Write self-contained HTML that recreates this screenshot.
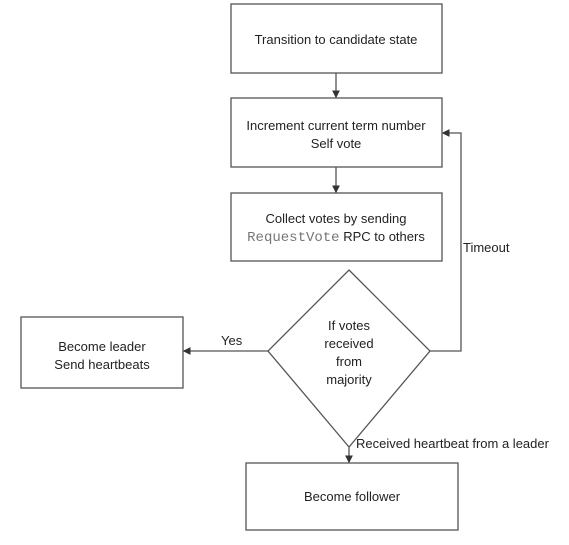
<!DOCTYPE html>
<html><head><meta charset="utf-8"><style>
html,body{margin:0;padding:0;background:#fff;}
svg text{font-family:"Liberation Sans",sans-serif;font-size:13px;fill:#222;}
</style></head><body>
<svg width="569" height="540" viewBox="0 0 569 540" xmlns="http://www.w3.org/2000/svg">
<defs><marker id="a" markerWidth="6" markerHeight="6" refX="5" refY="3" orient="auto"><path d="M0,0 L6,3 L0,6z" fill="#333"/></marker></defs>
<g fill="none" stroke="#555" stroke-width="1.3">
<rect x="231" y="4" width="211" height="69"/>
<rect x="231" y="98" width="211" height="69"/>
<rect x="231" y="193" width="211" height="68"/>
<polygon points="349,270 430,351 349,447 268,351"/>
<rect x="21" y="317" width="162" height="71"/>
<rect x="246" y="463" width="212" height="67"/>
<line x1="336" y1="73" x2="336" y2="97" marker-end="url(#a)"/>
<line x1="336" y1="167" x2="336" y2="192" marker-end="url(#a)"/>
<line x1="268" y1="351" x2="184" y2="351" marker-end="url(#a)"/>
<line x1="349" y1="447" x2="349" y2="462" marker-end="url(#a)"/>
<polyline points="430,351 461,351 461,133 443,133" marker-end="url(#a)"/>
</g>
<g text-anchor="middle">
<text x="336" y="44">Transition to candidate state</text>
<text x="336" y="130">Increment current term number</text>
<text x="336" y="148">Self vote</text>
<text x="336" y="223">Collect votes by sending</text>
<text x="336" y="241"><tspan style="font-family:'Liberation Mono',monospace;fill:#777;font-size:14px">RequestVote</tspan> RPC to others</text>
<text x="349" y="330">If votes</text>
<text x="349" y="348">received</text>
<text x="349" y="366">from</text>
<text x="349" y="384">majority</text>
<text x="102" y="351">Become leader</text>
<text x="102" y="369">Send heartbeats</text>
<text x="352" y="501">Become follower</text>
</g>
<text x="221" y="345">Yes</text>
<text x="463" y="252">Timeout</text>
<text x="356" y="448">Received heartbeat from a leader</text>
</svg>
</body></html>
